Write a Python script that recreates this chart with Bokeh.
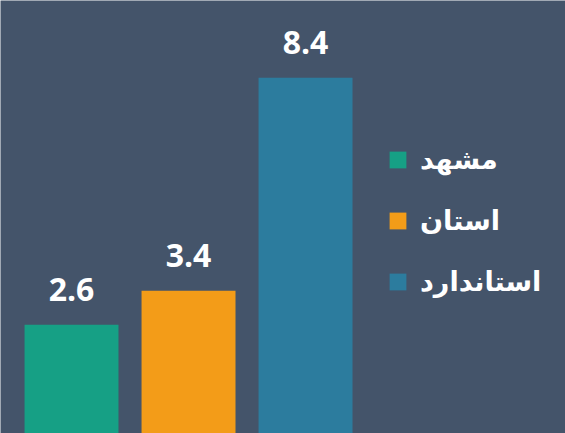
from bokeh.plotting import figure
from bokeh.models import ColumnDataSource, Range1d
from bokeh.core.properties import value
from bokeh.embed import file_html
from bokeh.resources import INLINE

# data
cities = ["مشهد", "استان", "استاندارد"]
values = [2.6, 3.4, 8.4]
labels = ["2.6", "3.4", "8.4"]
colors = ["#16A085", "#F39C18", "#2C7C9E"]

BG = "#44546A"

src = ColumnDataSource(dict(
    x=list(range(len(cities))),
    top=values,
    city=cities,
    label=labels,
    color=colors,
))

p = figure(width=565, height=433, output_backend="svg", toolbar_location=None,
           x_range=Range1d(-0.607, 4.222), y_range=Range1d(0.047, 10.214),
           min_border=0)
p.background_fill_color = BG
p.border_fill_color = BG
p.outline_line_color = None
p.axis.visible = False
p.grid.visible = False

p.vbar(x="x", top="top", width=0.803, bottom=0, source=src,
       fill_color="color", line_color=None, legend_field="city")

p.text(x="x", y="top", text="label", source=src,
       text_align="center", text_baseline="alphabetic", y_offset=-35,
       text_color="white", text_font=value("Open Sans"),
       text_font_style="bold", text_font_size="32px")

lg = p.legend[0]
lg.location = (387, 136)
lg.background_fill_alpha = 0
lg.border_line_color = None
lg.glyph_width = 21
lg.glyph_height = 21
lg.label_standoff = 12
lg.spacing = 30
lg.padding = 0
lg.margin = 0
lg.label_text_color = "white"
lg.label_text_font = "DejaVu Sans"
lg.label_text_font_style = "bold"
lg.label_text_font_size = "27px"

open("out.html", "w").write(file_html(p, INLINE))
